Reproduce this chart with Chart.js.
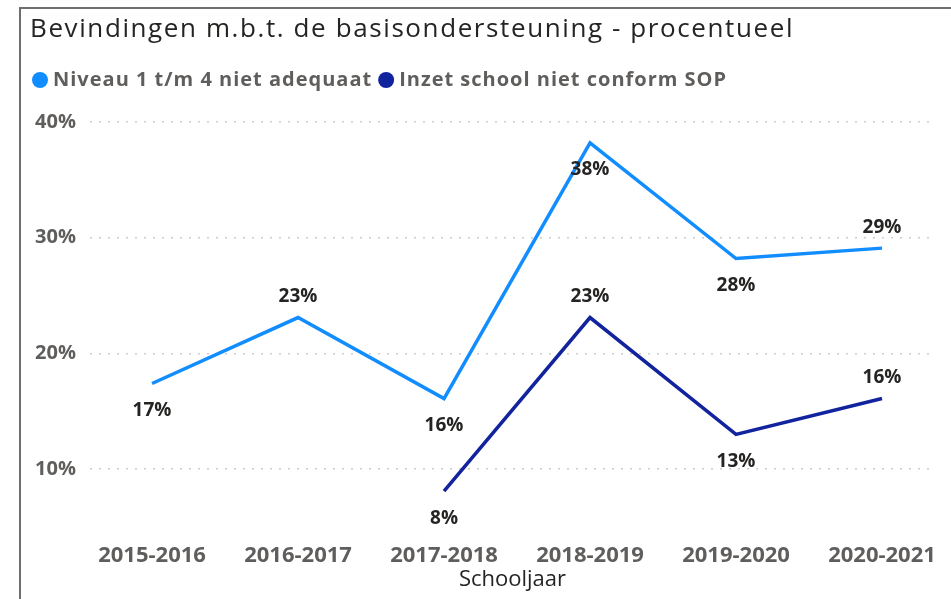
<!DOCTYPE html>
<html>
<head>
<meta charset="utf-8">
<title>Bevindingen basisondersteuning</title>
<script src="https://cdn.jsdelivr.net/npm/chart.js@4.4.1/dist/chart.umd.min.js"></script>
<style>
    body { margin: 0; background: #fff; }
    #frame {
        position: absolute; left: 19px; top: 7px; width: 932px; height: 592px;
        border-left: 2px solid #6e6e6e; border-top: 2px solid #6e6e6e;
    }
    #wrap { position: absolute; left: 21px; top: 9px; width: 930px; height: 590px; }
</style>
</head>
<body>
<div id="frame"></div>
<div id="wrap"><canvas id="lineChart"></canvas></div>
<script>
// Data
const schooljaren = ['2015-2016', '2016-2017', '2017-2018', '2018-2019', '2019-2020', '2020-2021'];
const niveauNietAdequaat = [17.4, 23.1, 16.1, 38.2, 28.2, 29.1];
const inzetNietConform = [null, null, 8.1, 23.1, 13.0, 16.1];
const yTicks = [10, 20, 30, 40];

const TITLE = 'Bevindingen m.b.t. de basisondersteuning - procentueel';
const FONT = '"Open Sans", "Noto Sans", sans-serif';
const GREY = '#605E5C';
const DARK = '#252423';

// Power BI style data labels: above when rising, below when falling
const dataLabels = {
    id: 'dataLabels',
    afterDatasetsDraw(chart) {
        const ctx = chart.ctx;
        const area = chart.chartArea;
        ctx.save();
        ctx.font = 'bold 19px ' + FONT;
        ctx.fillStyle = DARK;
        ctx.textAlign = 'center';
        ctx.textBaseline = 'middle';
        chart.data.datasets.forEach((ds, di) => {
            const meta = chart.getDatasetMeta(di);
            const vals = ds.data.map(d => d.y);
            meta.data.forEach((pt, i) => {
                const v = vals[i];
                if (v == null) return;
                const prev = vals[i - 1], next = vals[i + 1];
                let above = prev != null ? v >= prev : !(next != null && next > v);
                if (above && pt.y - 31 < area.top) above = false;
                ctx.fillText(Math.round(v) + '%', pt.x, above ? pt.y - 21 : pt.y + 27);
            });
        });
        ctx.restore();
    }
};

// Title and dot legend above the plot
const header = {
    id: 'header',
    afterDraw(chart) {
        const ctx = chart.ctx;
        ctx.save();
        ctx.textBaseline = 'middle';
        ctx.textAlign = 'left';

        ctx.font = '26px ' + FONT;
        ctx.letterSpacing = '1.6px';
        ctx.fillStyle = DARK;
        ctx.fillText(TITLE, 9, 21);

        ctx.font = 'bold 20px ' + FONT;
        ctx.letterSpacing = '1px';
        let x = 19;
        const y = 71;
        chart.data.datasets.forEach(ds => {
            ctx.fillStyle = ds.borderColor;
            ctx.beginPath();
            ctx.arc(x, y, 8, 0, Math.PI * 2);
            ctx.fill();
            ctx.fillStyle = GREY;
            ctx.fillText(ds.label, x + 13, y);
            x += 13 + ctx.measureText(ds.label).width + 14;
        });
        ctx.restore();
    }
};

document.addEventListener('DOMContentLoaded', function() {
    const ctx = document.getElementById('lineChart').getContext('2d');
    new Chart(ctx, {
        type: 'line',
        data: {
            datasets: [{
                label: 'Niveau 1 t/m 4 niet adequaat',
                data: niveauNietAdequaat.map((v, i) => ({ x: i, y: v })),
                borderColor: '#118DFF',
                borderWidth: 3.5,
                pointRadius: 0,
                tension: 0
            }, {
                label: 'Inzet school niet conform SOP',
                data: inzetNietConform.map((v, i) => ({ x: i, y: v })),
                borderColor: '#12239E',
                borderWidth: 3.5,
                pointRadius: 0,
                tension: 0
            }]
        },
        options: {
            responsive: true,
            maintainAspectRatio: false,
            animation: false,
            layout: { padding: { left: 9, right: 16, top: 113, bottom: 0 } },
            plugins: {
                legend: { display: false },
                tooltip: { enabled: false },
                title: { display: false }
            },
            scales: {
                x: {
                    type: 'linear',
                    min: -0.425,
                    max: 5.363,
                    afterBuildTicks: s => { s.ticks = schooljaren.map((_, i) => ({ value: i })); },
                    afterFit: s => { s.height = 72; },
                    ticks: {
                        callback: v => schooljaren[v],
                        color: GREY,
                        padding: 8,
                        maxRotation: 0,
                        font: { family: FONT, size: 22, weight: 'bold' }
                    },
                    grid: { display: false },
                    border: { display: false },
                    title: {
                        display: true,
                        text: 'Schooljaar',
                        color: DARK,
                        font: { family: FONT, size: 22 },
                        padding: { top: 4, bottom: 6 }
                    }
                },
                y: {
                    min: 5,
                    max: 40,
                    afterBuildTicks: s => { s.ticks = yTicks.map(v => ({ value: v })); },
                    afterFit: s => { s.width = 60; },
                    ticks: {
                        callback: v => v + '%',
                        color: GREY,
                        padding: 14,
                        font: { family: FONT, size: 20, weight: 'bold' }
                    },
                    grid: { color: '#cccccc', lineWidth: 1.5, drawTicks: false },
                    border: { display: false, dash: [2, 7] }
                }
            }
        },
        plugins: [dataLabels, header]
    });
});
</script>
</body>
</html>
